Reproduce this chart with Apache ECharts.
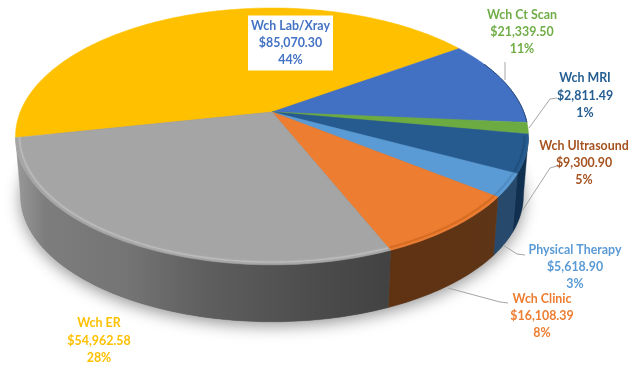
<!DOCTYPE html>
<html>
<head>
<meta charset="utf-8">
<style>html,body{margin:0;padding:0;background:#fff}#chart{width:638px;height:368px}</style>
<script src="https://cdn.jsdelivr.net/npm/echarts@6/dist/echarts.min.js"></script>
</head>
<body>
<div id="chart"></div>
<script>
// Clinic revenue by department, drawn as a tilted disc.
const departments = ['Wch Lab/Xray', 'Wch Ct Scan', 'Wch MRI', 'Wch Ultrasound', 'Physical Therapy', 'Wch Clinic', 'Wch ER'];
const amounts = [85070.30, 21339.50, 2811.49, 9300.90, 5618.90, 16108.39, 54962.58];
const faceColors = ['#ffc000', '#4270c2', '#6caa42', '#255b8f', '#5b9bd5', '#ed7d31', '#a5a5a5'];
const rimColors = [null, null, null, '#1f4e7c', '#4c88c0', '#d2691f', '#bcbcbc'];
const labelColors = ['#4472c4', '#70ad47', '#255e91', '#a5521f', '#5b9bd5', '#ed7d31', '#ffc000'];

// Label anchors and leader lines, in page pixels.
const labelCentres = [[290.5, 43], [522, 32], [585, 95.5], [584, 163], [575, 267], [542, 316], [99, 340.5]];
const leaders = [
  null,
  [[505, 62], [505, 80]],
  [[557, 98], [550, 99], [529, 128]],
  [[557, 166], [550, 168], [522, 211]],
  [[525, 255], [517, 254], [503, 245]],
  [[508, 303], [500, 302], [448, 288]],
  null
];

// Perspective of the disc.
const centreX = 272, centreY = 112, radiusX = 251.8, radiusY = 123.8, tilt = 0.19;
const wallDrop = 60, wallShrink = 0.98;
const firstAngle = 168.5, visibleFrom = 11, visibleTo = 170;

const total = amounts.reduce((a, b) => a + b, 0);
const sliceStart = [];
amounts.reduce((angle, v, i) => { sliceStart[i] = angle; return angle + v / total * 360; }, firstAngle);

function project(deg, r, shrink, drop) {
  const t = deg * Math.PI / 180, u = r * Math.cos(t), v = r * Math.sin(t), w = 1 - tilt * v;
  return [centreX + shrink * radiusX * u / w, centreY + drop + shrink * radiusY * v / w];
}
function arc(from, to, r, shrink, drop) {
  const n = Math.max(2, Math.ceil(Math.abs(to - from)));
  const pts = [];
  for (let i = 0; i <= n; i++) pts.push(project(from + (to - from) * i / n, r, shrink, drop));
  return pts;
}
function sliceRange(value, index) {
  const a = sliceStart[index];
  return [a, a + value / total * 360];
}
// Part of a slice on the side facing the viewer.
function frontRange(a, b) {
  const shifted = a >= 360 ? [a - 360, b - 360] : [a, b];
  const from = Math.max(shifted[0], visibleFrom), to = Math.min(shifted[1], visibleTo);
  return from < to ? [from, to] : null;
}

const wallFills = {
  3: '#11304f',
  4: '#26496c',
  5: { type: 'linear', x: 0, y: 0, x2: 1, y2: 0, colorStops: [{ offset: 0, color: '#5f3212' }, { offset: 1, color: '#5e3517' }] },
  6: { type: 'linear', x: 0, y: 0, x2: 1, y2: 0, colorStops: [
    { offset: 0, color: '#9a9a9a' }, { offset: 0.08, color: '#7d7d7d' }, { offset: 0.3, color: '#747474' },
    { offset: 0.5, color: '#5f5f5f' }, { offset: 0.8, color: '#4c4c4c' }, { offset: 1, color: '#424242' }] }
};

const seriesData = departments.map((name, i) => ({ name: name, value: [amounts[i], i] }));

function renderWall(params, api) {
  const i = api.value(1);
  const r = sliceRange(api.value(0), i);
  const f = frontRange(r[0], r[1]);
  if (!f || !wallFills[i]) return { type: 'group', children: [] };
  const pts = arc(f[0], f[1], 1, 1, 0).concat(arc(f[1], f[0], 1, wallShrink, wallDrop));
  return { type: 'polygon', shape: { points: pts }, style: { fill: wallFills[i], stroke: wallFills[i], lineWidth: 0.4 } };
}

function renderFace(params, api) {
  const i = api.value(1);
  const r = sliceRange(api.value(0), i);
  const children = [{
    type: 'polygon',
    shape: { points: [[centreX, centreY]].concat(arc(r[0], r[1], 1, 1, 0)) },
    style: { fill: faceColors[i], stroke: faceColors[i], lineWidth: 0.5 }
  }];
  const f = frontRange(r[0], r[1]);
  if (f && rimColors[i]) {
    children.push({
      type: 'polyline',
      shape: { points: arc(f[0], f[1], 0.985, 1, 0) },
      style: { fill: null, stroke: rimColors[i], lineWidth: 1.2, shadowBlur: 2, shadowColor: rimColors[i] }
    });
  }
  if (i === 1) {
    children.push({
      type: 'polyline',
      shape: { points: arc(r[0] + 10, r[1], 1, 1, 0) },
      style: { fill: null, stroke: '#254777', lineWidth: 1 }
    });
  }
  return { type: 'group', children: children };
}

function renderLabel(params, api) {
  const i = api.value(1);
  const value = api.value(0);
  const money = '$' + value.toLocaleString('en-US', { minimumFractionDigits: 2, maximumFractionDigits: 2 });
  const share = Math.round(value / total * 100) + '%';
  const children = [];
  if (leaders[i]) {
    children.push({
      type: 'polyline',
      shape: { points: leaders[i] },
      style: { fill: null, stroke: '#a6a6a6', lineWidth: 1 }
    });
  }
  const style = {
    text: departments[i] + '\n' + money + '\n' + share,
    x: labelCentres[i][0], y: labelCentres[i][1],
    fill: labelColors[i], font: 'bold 12.4px Lato, sans-serif',
    lineHeight: 17.4, align: 'center', verticalAlign: 'middle'
  };
  if (i === 0) {
    style.backgroundColor = '#fff';
    style.padding = [1, 3, 2, 3];
  }
  children.push({ type: 'text', style: style });
  return { type: 'group', children: children };
}

function renderGroundShadow() {
  return {
    type: 'polygon',
    shape: { points: arc(0, 360, 1, wallShrink, wallDrop) },
    style: { fill: '#777', shadowBlur: 16, shadowColor: 'rgba(0,0,0,0.42)', shadowOffsetY: 4 }
  };
}

const chart = echarts.init(document.getElementById('chart'), null, { renderer: 'canvas' });
chart.setOption({
  animation: false,
  backgroundColor: '#fff',
  series: [
    { type: 'custom', coordinateSystem: 'none', silent: true, z: 1, data: [[0]], renderItem: renderGroundShadow },
    { type: 'custom', coordinateSystem: 'none', silent: true, z: 2, data: seriesData, renderItem: renderWall },
    { type: 'custom', coordinateSystem: 'none', silent: true, z: 3, data: seriesData, renderItem: renderFace },
    { type: 'custom', coordinateSystem: 'none', silent: true, z: 4, data: seriesData, renderItem: renderLabel }
  ]
});
</script>
</body>
</html>
